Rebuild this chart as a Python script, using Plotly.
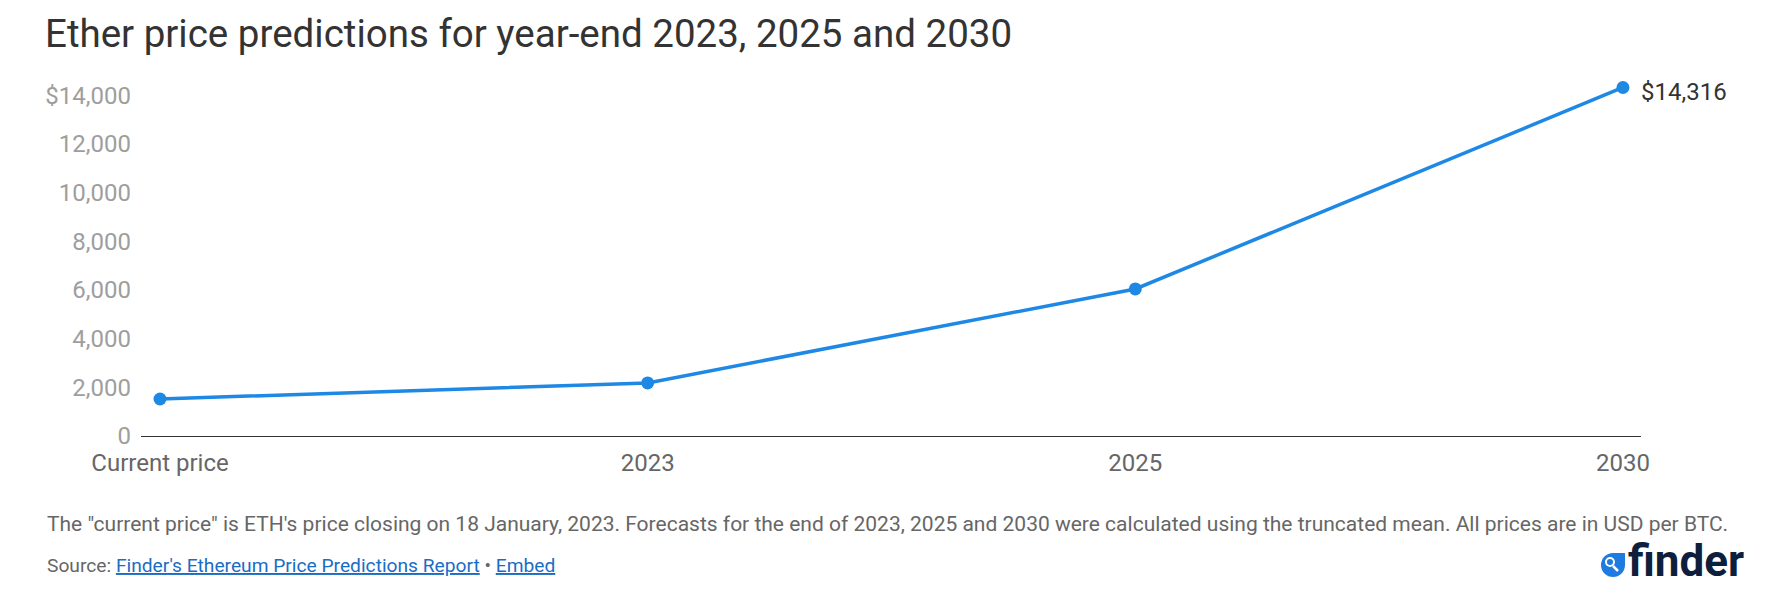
import plotly.graph_objects as go

# ---- data ----
categories = ["Current price", "2023", "2025", "2030"]
prices = [1520, 2180, 6040, 14316]
y_tickvals = [0, 2000, 4000, 6000, 8000, 10000, 12000, 14000]
y_ticktext = ["0", "2,000", "4,000", "6,000", "8,000", "10,000", "12,000", "$14,000"]
end_label = "$14,316"

title_text = "Ether price predictions for year-end 2023, 2025 and 2030"
note_text = ('The "current price" is ETH\'s price closing on 18 January, 2023. Forecasts for the end of 2023, '
             '2025 and 2030 were calculated using the truncated mean. All prices are in USD per BTC.')
source_link = "Finder's Ethereum Price Predictions Report"
embed_link = "Embed"

# ---- layout geometry (pixels) ----
W, H = 1776, 603
L, R, T, B = 141, 135, 83, 167
PW, PH = W - L - R, H - T - B

def px_x(px):
    return (px - L) / PW

def px_y(py):
    return (H - B - py) / PH

LINE_BLUE = "#1e88e5"
FONT = "Roboto, 'Noto Sans', sans-serif"

fig = go.Figure()
fig.add_trace(go.Scatter(
    x=categories, y=prices, mode="lines+markers",
    line=dict(color=LINE_BLUE, width=3.5),
    marker=dict(color=LINE_BLUE, size=13),
    cliponaxis=False,
    hoverinfo="skip", showlegend=False,
))

last = len(categories) - 1
fig.add_annotation(
    x=last, y=prices[last], xref="x", yref="y",
    text=end_label, showarrow=False, xanchor="left", yanchor="middle",
    xshift=16, yshift=-5, font=dict(family=FONT, size=24, color="#333333"),
)

fig.update_layout(
    width=W, height=H,
    margin=dict(l=L, r=R, t=T, b=B, pad=0),
    paper_bgcolor="white", plot_bgcolor="white",
    font=dict(family=FONT),
    hovermode=False,
    title=dict(
        text=title_text, x=45 / W, xanchor="left", xref="container",
        y=1 - 34 / H, yanchor="middle", yref="container",
        font=dict(family=FONT, size=38.5, color="#333333"),
    ),
    xaxis=dict(
        type="category", range=[-0.039, 3.037],
        showline=True, linecolor="#333333", linewidth=1,
        showgrid=False, zeroline=False, ticks="",
        tickfont=dict(family=FONT, size=24, color="#666666"),
        ticklabelstandoff=5, fixedrange=True,
    ),
    yaxis=dict(
        range=[0, 14500], tickvals=y_tickvals, ticktext=y_ticktext,
        showline=False, showgrid=False, zeroline=False, ticks="",
        tickfont=dict(family=FONT, size=24, color="#9e9e9e"),
        ticklabelstandoff=9, fixedrange=True,
    ),
)

# footer note
fig.add_annotation(
    xref="paper", yref="paper", x=px_x(45), y=px_y(524),
    xanchor="left", yanchor="middle", showarrow=False, align="left",
    text=note_text, font=dict(family=FONT, size=21, color="#666666"),
)
# source line
link_style = "color:#1a6dc6;text-decoration:underline"
fig.add_annotation(
    xref="paper", yref="paper", x=px_x(45), y=px_y(565),
    xanchor="left", yanchor="middle", showarrow=False, align="left",
    text=(f"Source: <a href='https://www.finder.com' style='{link_style}'>{source_link}</a>"
          f" \u2022 <a href='#' style='{link_style}'>{embed_link}</a>"),
    font=dict(family=FONT, size=19.2, color="#666666"),
)

# finder logo
ax, ay = px_x(1613), px_y(565)
logo_blue = "#1e7be0"
common = dict(xref="paper", yref="paper", xsizemode="pixel", ysizemode="pixel",
              xanchor=ax, yanchor=ay)
fig.add_shape(type="circle", x0=-12, x1=12, y0=-12, y1=12,
              fillcolor=logo_blue, line=dict(width=0), **common)
fig.add_shape(type="rect", x0=0, x1=12, y0=0, y1=12,
              fillcolor=logo_blue, line=dict(width=0), **common)
fig.add_shape(type="circle", x0=-7, x1=1, y0=-1, y1=7,
              fillcolor="rgba(0,0,0,0)", line=dict(color="white", width=2), **common)
fig.add_shape(type="line", x0=0, x1=5, y0=-1, y1=-6,
              line=dict(color="white", width=2.5), **common)
fig.add_annotation(
    xref="paper", yref="paper", x=px_x(1626), y=px_y(561),
    xanchor="left", yanchor="middle", showarrow=False,
    text="<b>finder</b>", font=dict(family=FONT, size=44, color="#0d1f3c"),
)

fig.write_html("out.html", config={"displayModeBar": False},
               post_script="document.body.style.margin='0';")
